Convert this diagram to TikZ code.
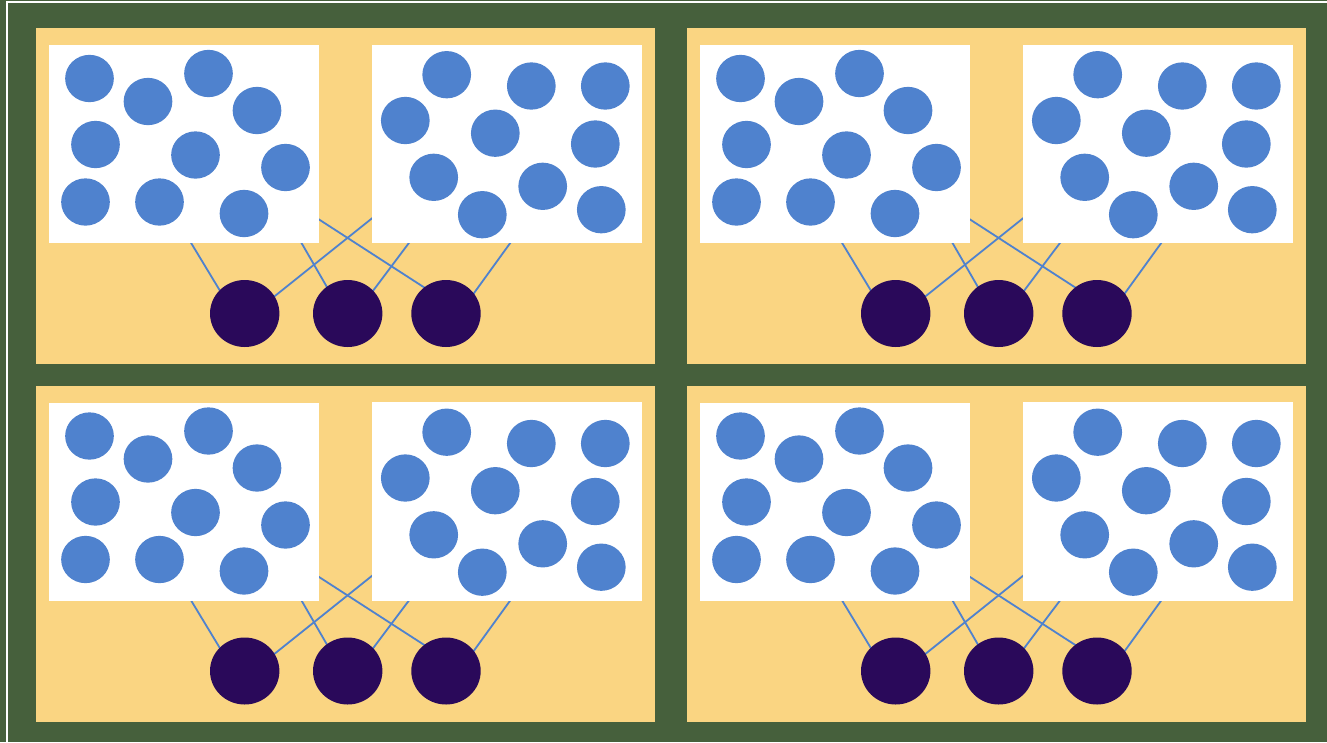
\documentclass[tikz,border=0pt]{standalone}
\usetikzlibrary{shapes.geometric}
\definecolor{bggreen}{RGB}{70,96,60}
\definecolor{panelyellow}{RGB}{250,213,130}
\definecolor{dotblue}{RGB}{79,130,206}
\definecolor{dotdark}{RGB}{42,9,90}
\pgfdeclarelayer{bg}
\pgfdeclarelayer{lines}
\pgfsetlayers{bg,lines,main}
\tikzset{
  bluedot/.style={ellipse, fill=dotblue, draw=none, inner sep=0pt, minimum width=48.7pt, minimum height=47.3pt},
  darkdot/.style={ellipse, fill=dotdark, draw=none, inner sep=0pt, minimum width=69.4pt, minimum height=67pt},
  whitebox/.style={rectangle, fill=white, draw=none, inner sep=0pt},
  link/.style={draw=dotblue, line width=1.8pt, shorten <=-6pt, shorten >=-6pt},
  panel/.style={fill=panelyellow, draw=none}
}
\begin{document}
\begin{tikzpicture}[x=1pt,y=-1pt]
\begin{pgfonlayer}{bg}
\fill[bggreen] (0,0) rectangle (1327,742);
\end{pgfonlayer}
\useasboundingbox (0,0) rectangle (1327,742);
\draw[white, line width=1.5pt] (7,742) -- (7,2) -- (1327,2);
\foreach \dx/\dy/\p in {0/0/a, 651/0/b, 0/357.5/c, 651/357.5/d}{
\begin{scope}[shift={(\dx,\dy)}]
  \begin{pgfonlayer}{bg}
    \fill[panelyellow] (36,28) rectangle (655,364);
  \end{pgfonlayer}
  \node[whitebox, minimum width=269.5pt, minimum height=198.3pt] (\p L) at (183.75,144.15) {};
  \node[whitebox, minimum width=270pt, minimum height=198.6pt] (\p R) at (507,144) {};
  % left box dots
  \foreach \x/\y [count=\i] in {89.5/78.5, 148/101.5, 208.5/73.5, 257/110.5, 95.5/144.5, 195.5/155, 285.5/167.5, 85.5/202, 159.5/202, 244/213.5}
    \node[bluedot] (\p l\i) at (\x,\y) {};
  % right box dots
  \foreach \x/\y [count=\i] in {446.7/74.7, 531.3/86, 605.3/86, 405.3/120.5, 495.3/133.2, 595.3/144, 433.7/177.3, 542.7/186.3, 482.3/214.7, 601.3/209.7}
    \node[bluedot] (\p r\i) at (\x,\y) {};
  % output dots
  \node[darkdot] (\p o1) at (244.7,313.5) {};
  \node[darkdot] (\p o2) at (347.7,313.5) {};
  \node[darkdot] (\p o3) at (446,313.5) {};
  % connector start points on box edges
  \coordinate (\p s1) at (191.3,243.3);
  \coordinate (\p s2) at (301.7,243.3);
  \coordinate (\p s3) at (318.3,219);
  \coordinate (\p s4) at (372,218.3);
  \coordinate (\p s5) at (408.7,243.3);
  \coordinate (\p s6) at (510,243.3);
  \begin{pgfonlayer}{lines}
    \draw[link] (\p s1) -- (\p o1.137);
    \draw[link] (\p s2) -- (\p o2.128);
    \draw[link] (\p s3) -- (\p o3.130);
    \draw[link] (\p s4) -- (\p o1.30);
    \draw[link] (\p s5) -- (\p o2.42);
    \draw[link] (\p s6) -- (\p o3.36);
  \end{pgfonlayer}
\end{scope}
}
\end{tikzpicture}
\end{document}
